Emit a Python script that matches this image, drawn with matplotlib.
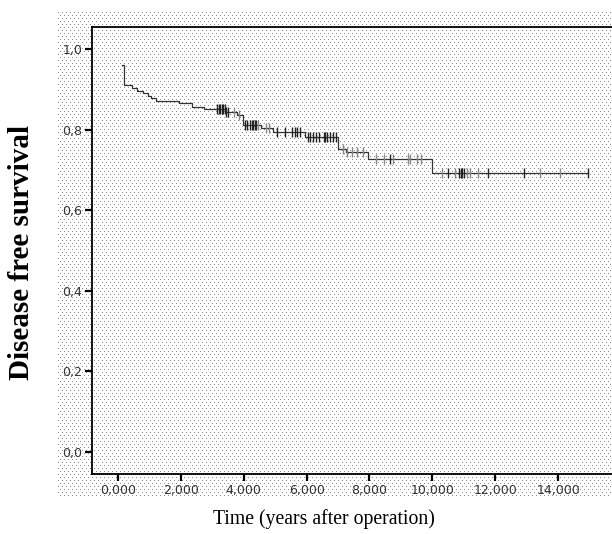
import numpy as np
import matplotlib
matplotlib.use("Agg")
import matplotlib.pyplot as plt
from matplotlib.ticker import FuncFormatter

# ---- data ----
start_time = 0.13
start_surv = 0.961
event_times = [0.20, 0.45, 0.62, 0.80, 0.95, 1.05, 1.20, 1.95, 2.35, 2.75,
               3.45, 3.80, 3.98, 4.55, 4.93, 5.95, 7.00, 7.25, 7.95, 9.98]
event_surv = [0.912, 0.905, 0.898, 0.892, 0.885, 0.879, 0.873, 0.866, 0.858, 0.852,
              0.845, 0.838, 0.812, 0.805, 0.796, 0.783, 0.752, 0.745, 0.727, 0.694]
end_time = 14.95

censor_dark = [3.15, 3.2, 3.25, 3.3, 3.35, 3.4, 3.45, 3.5, 4.05, 4.1, 4.2, 4.25, 4.3,
               4.35, 4.4, 5.05, 5.3, 5.55, 5.62, 5.7, 5.8, 6.05, 6.1, 6.2, 6.3, 6.4,
               6.55, 6.6, 6.65, 6.75, 6.85, 6.95, 8.65, 10.5, 10.85, 10.9, 10.95,
               11.0, 11.77, 12.92, 14.95]
censor_light = [3.7, 3.85, 4.45, 4.7, 4.8, 7.15, 7.3, 7.45, 7.6, 7.8, 8.2, 8.45,
                8.75, 9.23, 9.3, 9.5, 9.65, 10.3, 10.72, 11.1, 11.2, 11.45, 13.43, 14.06]

x_ticks = [0, 2, 4, 6, 8, 10, 12, 14]
y_ticks = [0.0, 0.2, 0.4, 0.6, 0.8, 1.0]
x_label = "Time (years after operation)"
y_label = "Disease free survival"

W, H = 612, 534
fig = plt.figure(figsize=(W / 100, H / 100), dpi=100)

# ---- dotted background texture ----
bg = np.ones((H, W, 3))
yy, xx = np.mgrid[0:H, 0:W]
region = (xx >= 58) & (yy >= 12) & (yy <= 497)
ry = (yy - 12) % 6
dots = ((ry == 0) & ((xx - 58) % 4 == 0)) | ((ry == 3) & ((xx - 58) % 4 == 2))
mask = region & dots
bg[mask] = 0.55
bax = fig.add_axes([0, 0, 1, 1], zorder=0)
bax.imshow(bg, interpolation="nearest", aspect="auto", extent=[0, W, H, 0])
bax.set_axis_off()

# ---- main axes ----
left, right, top, bottom = 92, 615, 27, 474
ax = fig.add_axes([left / W, (H - bottom) / H, (right - left) / W, (bottom - top) / H], zorder=1)
ax.patch.set_alpha(0)

st_x = [start_time] + event_times + [end_time]
st_y = [start_surv] + event_surv + [event_surv[-1]]
ax.step(st_x, st_y, where="post", color="#333333", lw=0.9)

def surv_at(t):
    idx = np.searchsorted(st_x, t, side="right") - 1
    return np.array(st_y)[idx]

ax.plot(censor_dark, surv_at(censor_dark), ls="none", marker="|", ms=7, mew=1.0, color="#222222")
ax.plot(censor_light, surv_at(censor_light), ls="none", marker="|", ms=7, mew=1.0, color="#888888")

ax.set_xlim(-0.827, 15.81)
ax.set_ylim(-0.0547, 1.0559)
ax.set_xticks(x_ticks)
ax.set_yticks(y_ticks)
ax.xaxis.set_major_formatter(FuncFormatter(lambda v, p: f"{v:.3f}".replace(".", ",")))
ax.yaxis.set_major_formatter(FuncFormatter(lambda v, p: f"{v:.1f}".replace(".", ",")))
ax.tick_params(axis="both", direction="out", length=5, width=1.6, labelsize=9,
               labelcolor="#333333", pad=2)
for s in ["top", "bottom", "left"]:
    ax.spines[s].set_linewidth(1.3)
ax.spines["right"].set_visible(False)

fig.text(324 / W, 1 - 519 / H, x_label, ha="center", va="center",
         fontsize=14.2, family="Liberation Serif")
fig.text(22 / W, 1 - 252 / H, y_label, ha="center", va="center", rotation=90,
         fontsize=21, fontweight="bold", family="Liberation Serif")

fig.savefig("out.png", dpi=100)
